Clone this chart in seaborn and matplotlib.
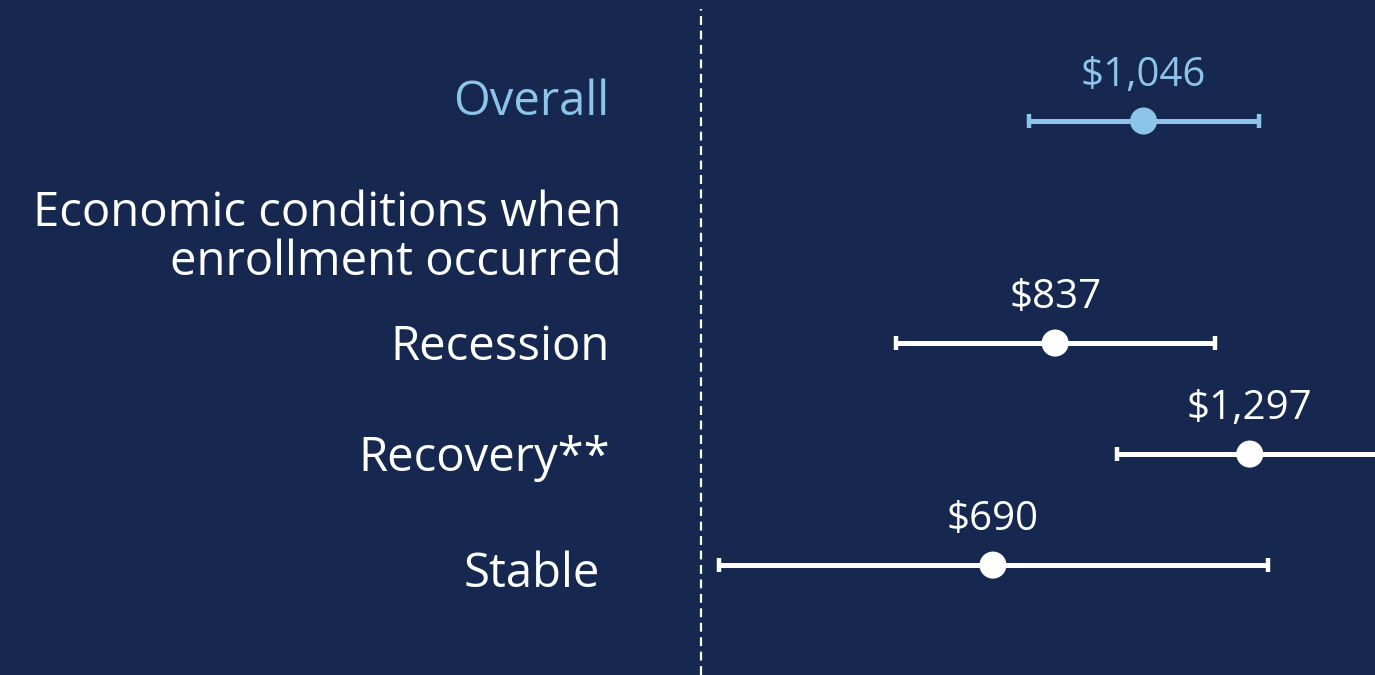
import numpy as np
import pandas as pd
import matplotlib
matplotlib.use("Agg")
import matplotlib.pyplot as plt
import seaborn as sns

# data
groups = ["Overall", "Recession", "Recovery**", "Stable"]
estimates = [1046, 837, 1297, 690]
ci_low = [775, 461, 983, 43]
ci_high = [1319, 1215, 1611, 1340]
value_labels = ["$1,046", "$837", "$1,297", "$690"]
rows = [0, 2, 3, 4]
header = "Economic conditions when\nenrollment occurred"

bg = "#16284f"
light_blue = "#8dc4ea"
white = "#ffffff"
colors = [light_blue, white, white, white]

sns.set_theme(style="white")
plt.rcParams["font.family"] = ["Open Sans", "DejaVu Sans"]

df = pd.DataFrame({"group": groups, "est": estimates, "lo": ci_low,
                   "hi": ci_high, "row": rows, "color": colors})

fig = plt.figure(figsize=(13.75, 6.75), dpi=100, facecolor=bg)
ax = fig.add_axes([0, 0, 1, 1])
ax.set_facecolor(bg)

# confidence intervals
for _, r in df.iterrows():
    ax.errorbar(r["est"], r["row"], xerr=[[r["est"] - r["lo"]], [r["hi"] - r["est"]]],
                fmt="none", ecolor=r["color"], elinewidth=3.6, capsize=5,
                capthick=3.2, zorder=2)

sns.scatterplot(data=df, x="est", y="row", hue="group", palette=colors,
                s=380, edgecolor="none", legend=False, ax=ax, zorder=3)

# zero line
ax.axvline(0, ymin=0, ymax=0.987, color=white, lw=1.6, ls=(0, (4, 2.5)), zorder=1)

# labels
label_dy = [-0.17, 0.04, 0.04, 0.08]
label_x = [-216, -216, -216, -240]
for r, v, dy, lx in zip(df.itertuples(), value_labels, label_dy, label_x):
    ax.text(r.est, r.row - 0.41, v, color=r.color, fontsize=29,
            ha="center", va="center")
    ax.text(lx, r.row + dy, r.group, color=r.color, fontsize=34,
            ha="right", va="center")

ax.text(-188, 1.05, header, color=white, fontsize=34,
        ha="right", va="center", linespacing=1.05)

ax.set_xlim(-1657, 1593)
ax.set_ylim(4.99, -1.09)
ax.axis("off")

fig.savefig("out.png", dpi=100, facecolor=bg)
